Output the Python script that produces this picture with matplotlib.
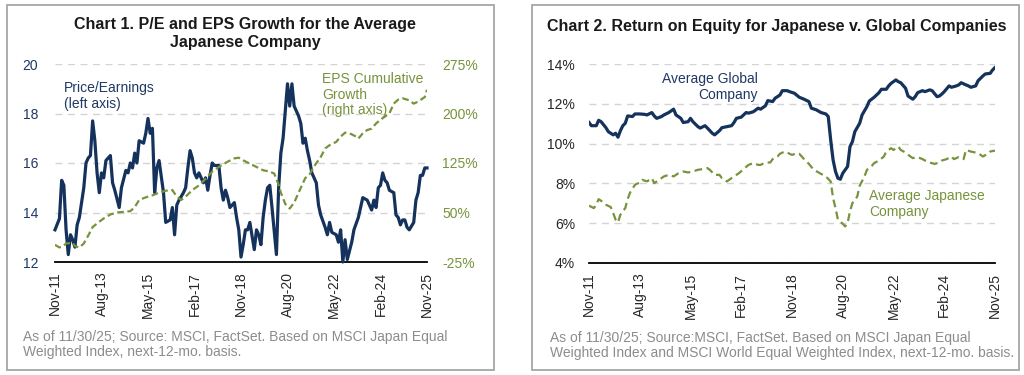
import matplotlib.pyplot as plt
import matplotlib.patches as patches

plt.rcParams['font.family'] = ['Liberation Sans', 'DejaVu Sans']

# ---- data: (months since Nov-2011, value) ----
date_labels = ['Nov-11', 'Aug-13', 'May-15', 'Feb-17', 'Nov-18',
               'Aug-20', 'May-22', 'Feb-24', 'Nov-25']

pe_points = [
    (0, 13.3), (2, 13.75), (3, 15.3), (4, 15.1), (5, 13.3), (6, 12.3), (7, 13.1),
    (8, 12.9), (9, 12.6), (10, 13.5), (11, 13.8), (13, 15.0), (14, 16.0), (15, 16.2),
    (16, 16.3), (17, 17.7), (18, 16.9), (19, 15.6), (20, 14.8), (21, 15.6), (22, 15.4),
    (23, 16.1), (25, 16.3), (26, 15.2), (27, 14.9), (29, 14.2), (30, 15.0), (32, 15.7),
    (33, 15.6), (34, 16.0), (35, 15.8), (36, 16.4), (37, 16.0), (38, 16.9), (40, 16.8),
    (41, 17.2), (42, 17.8), (43, 17.2), (44, 17.4), (45, 14.8), (46, 15.8), (47, 16.1),
    (49, 14.8), (50, 13.6), (52, 13.7), (53, 14.2), (54, 13.1), (55, 14.3), (56, 14.5),
    (58, 14.8), (59, 15.0), (60, 15.8), (61, 16.5), (62, 16.2), (63, 15.6), (64, 15.4),
    (65, 15.6), (67, 15.2), (68, 15.4), (69, 14.9), (70, 15.5), (71, 16.0), (72, 15.9),
    (74, 15.9), (75, 15.0), (76, 14.5), (77, 14.9), (78, 14.6), (79, 14.2), (81, 14.4),
    (82, 13.8), (83, 13.3), (84, 12.2), (85, 12.7), (86, 13.3), (87, 13.3), (88, 13.6),
    (90, 12.5), (91, 13.3), (92, 13.1), (93, 12.7), (94, 13.8), (95, 14.5), (96, 15.0),
    (97, 15.1), (98, 14.2), (100, 12.3), (101, 15.0), (102, 16.4), (103, 17.0), (104, 18.1),
    (105, 19.2), (106, 18.3), (107, 19.2), (108, 18.3), (110, 17.9), (111, 17.6), (112, 16.8),
    (113, 17.0), (114, 16.5), (115, 16.1), (116, 15.6), (118, 15.2), (119, 14.3), (120, 13.9),
    (122, 13.4), (123, 13.1), (124, 13.6), (125, 13.2), (127, 13.1), (128, 12.8), (129, 13.3),
    (130, 12.0), (131, 12.9), (132, 12.1), (134, 12.8), (135, 13.3), (137, 13.8), (138, 14.2),
    (139, 14.6), (141, 14.5), (143, 14.1), (144, 14.5), (145, 14.2), (146, 15.0), (147, 15.1),
    (148, 15.6), (149, 15.3), (150, 15.2), (151, 14.9), (153, 14.8), (154, 13.9), (155, 13.8),
    (156, 13.5), (157, 13.7), (158, 13.7), (159, 13.4), (160, 13.3), (162, 13.6), (163, 14.5),
    (164, 14.8), (165, 15.5), (166, 15.5), (167, 15.8), (168, 15.8),
]

eps_points = [
    (0, 1), (2, -3), (4, 0), (5, 3), (8, 4), (9, -1), (11, -3), (13, 3), (15, 15),
    (17, 28), (20, 36), (22, 41), (25, 47), (28, 50), (31, 51), (34, 52), (36, 58),
    (38, 69), (41, 73), (44, 76), (47, 80), (50, 83), (53, 84), (55, 74), (57, 69),
    (59, 74), (62, 84), (65, 91), (68, 101), (71, 112), (74, 119), (78, 127), (81, 132),
    (83, 133), (85, 129), (88, 124), (91, 119), (94, 114), (97, 112), (99, 109), (101, 92),
    (102, 80), (104, 63), (106, 56), (108, 65), (110, 80), (113, 102), (115, 108), (117, 120),
    (120, 134), (122, 147), (124, 152), (127, 157), (129, 165), (131, 171), (133, 170),
    (136, 165), (137, 162), (139, 170), (141, 175), (143, 177), (145, 185), (148, 193),
    (151, 200), (153, 215), (155, 221), (157, 223), (160, 220), (162, 215), (164, 218),
    (167, 225), (168, 236),
]

roe_global_points = [
    (0, 11.06), (1, 10.9), (3, 10.9), (4, 11.17), (5, 11.1), (7, 10.8), (8, 10.6),
    (10, 10.44), (11, 10.52), (12, 10.32), (13, 10.65), (14, 10.9), (15, 11.02), (16, 11.39),
    (18, 11.36), (19, 11.49), (21, 11.49), (23, 11.47), (24, 11.44), (26, 11.56), (27, 11.39),
    (28, 11.27), (30, 11.36), (31, 11.44), (33, 11.56), (35, 11.73), (36, 11.44), (38, 11.27),
    (39, 11.06), (41, 11.1), (42, 11.27), (43, 11.1), (45, 10.86), (46, 10.78), (48, 10.9),
    (49, 10.78), (51, 10.52), (52, 10.44), (54, 10.65), (55, 10.8), (57, 10.85), (59, 10.9),
    (60, 11.06), (61, 11.27), (63, 11.33), (65, 11.56), (66, 11.53), (68, 11.6), (70, 11.78),
    (71, 11.73), (73, 11.9), (74, 12.16), (76, 12.11), (77, 12.28), (79, 12.44), (80, 12.66),
    (82, 12.66), (83, 12.61), (85, 12.53), (87, 12.33), (89, 12.23), (91, 12.11), (92, 11.78),
    (94, 11.7), (96, 11.56), (98, 11.49), (99, 11.36), (100, 10.19), (101, 9.18), (102, 8.6),
    (103, 8.26), (104, 8.21), (105, 8.51), (107, 8.85), (108, 9.85), (109, 10.1), (110, 10.6),
    (112, 11.02), (113, 11.44), (115, 11.86), (116, 12.14), (118, 12.33), (120, 12.56),
    (121, 12.73), (123, 12.73), (124, 12.9), (125, 13.03), (127, 13.2), (128, 13.11),
    (129, 13.06), (131, 12.78), (132, 12.39), (134, 12.23), (135, 12.36), (136, 12.56),
    (138, 12.66), (139, 12.61), (141, 12.7), (142, 12.66), (144, 12.36), (145, 12.39),
    (146, 12.49), (147, 12.61), (149, 12.9), (150, 12.83), (152, 12.9), (153, 12.95),
    (154, 13.06), (156, 12.95), (157, 12.9), (158, 12.83), (160, 12.9), (161, 13.16),
    (163, 13.4), (164, 13.5), (166, 13.53), (167, 13.7), (168, 13.82),
]

roe_japan_points = [
    (0, 6.88), (2, 6.76), (3, 6.93), (4, 7.21), (6, 7.04), (7, 6.93), (9, 6.81), (10, 6.51),
    (11, 6.18), (12, 6.04), (13, 6.43), (15, 6.76), (16, 7.21), (17, 7.54), (19, 7.93),
    (21, 8.05), (22, 8.18), (24, 8.1), (26, 8.26), (27, 8.01), (29, 8.18), (31, 8.35),
    (33, 8.43), (35, 8.35), (37, 8.51), (39, 8.6), (41, 8.55), (43, 8.6), (45, 8.68),
    (47, 8.72), (49, 8.77), (50, 8.68), (52, 8.43), (54, 8.43), (55, 8.26), (57, 8.1),
    (58, 8.18), (60, 8.35), (62, 8.51), (64, 8.72), (66, 8.93), (68, 9.02), (70, 8.93),
    (71, 8.93), (73, 9.05), (75, 9.05), (76, 9.22), (78, 9.35), (79, 9.49), (81, 9.6),
    (82, 9.55), (84, 9.43), (86, 9.52), (87, 9.49), (89, 9.22), (91, 8.98), (93, 8.68),
    (95, 8.55), (96, 8.48), (98, 8.35), (100, 8.1), (101, 7.26), (102, 6.76), (103, 6.18),
    (105, 5.97), (106, 5.84), (107, 6.0), (108, 6.6), (109, 7.01), (111, 7.34), (112, 7.88),
    (114, 8.35), (115, 8.68), (117, 8.88), (118, 9.02), (120, 9.15), (122, 9.35), (123, 9.6),
    (125, 9.77), (126, 9.68), (128, 9.85), (129, 9.68), (131, 9.55), (133, 9.35), (134, 9.27),
    (136, 9.32), (138, 9.22), (139, 9.15), (141, 9.05), (143, 8.98), (145, 9.05), (146, 9.15),
    (148, 9.22), (150, 9.35), (151, 9.22), (153, 9.32), (155, 9.22), (156, 9.68), (158, 9.6),
    (160, 9.55), (161, 9.52), (163, 9.35), (165, 9.49), (166, 9.6), (168, 9.65),
]

pe_ticks = [12, 14, 16, 18, 20]
eps_ticks = [-25, 50, 125, 200, 275]
roe_ticks = [4, 6, 8, 10, 12, 14]

# ---- styling ----
navy = '#14325c'
olive = '#77933c'
grid_col = '#d4d4d4'
text_dark = '#262626'
note_gray = '#8c8c8c'

W, H = 1024, 375
fig = plt.figure(figsize=(W / 100, H / 100), dpi=100)

# light grey frames around each chart
for x0 in (7, 532):
    fig.add_artist(patches.Rectangle((x0 / W, 5 / H), 487 / W, 365 / H,
                                     transform=fig.transFigure, fill=False,
                                     edgecolor='#a6a6a6', lw=1.3))


def style_axes(ax, tick_color):
    for side in ['top', 'right', 'left']:
        ax.spines[side].set_visible(False)
    ax.spines['bottom'].set_color('black')
    ax.spines['bottom'].set_linewidth(1.3)
    ax.grid(axis='y', color=grid_col, ls=(0, (5, 4)), lw=1)
    ax.set_axisbelow(True)
    ax.set_xlim(0, 168)
    ax.set_xticks([21 * i for i in range(len(date_labels))])
    ax.set_xticklabels(date_labels, rotation=90, fontsize=10, color=text_dark)
    ax.tick_params(axis='x', length=0, pad=7)
    ax.tick_params(axis='y', length=0, labelsize=10, labelcolor=tick_color)


# ---------------- Chart 1 ----------------
ax1 = fig.add_axes([55 / W, 113 / H, 372 / W, 198 / H])
style_axes(ax1, '#1f3864')
ax1.tick_params(axis='y', pad=12)
m, v = zip(*pe_points)
ax1.plot(m, v, color=navy, lw=2.3, solid_joinstyle='round', zorder=3, clip_on=False)
ax1.set_ylim(12, 20)
ax1.set_yticks(pe_ticks)

ax1r = ax1.twinx()
for side in ax1r.spines:
    ax1r.spines[side].set_visible(False)
m, v = zip(*eps_points)
ax1r.plot(m, v, color=olive, lw=1.6, ls=(0, (3, 1.6)))
ax1r.set_ylim(-25, 275)
ax1r.set_yticks(eps_ticks)
ax1r.set_yticklabels([f'{t}%' for t in eps_ticks])
ax1r.tick_params(axis='y', length=0, labelsize=10, labelcolor=olive, pad=11)

ax1.text(4, 19.3, 'Price/Earnings\n(left axis)', color='#1f3864', fontsize=10,
         va='top', ha='left', linespacing=1.15)
ax1r.text(120.5, 263, 'EPS Cumulative\nGrowth\n(right axis)', color=olive, fontsize=10,
          va='top', ha='left', linespacing=1.15)

fig.text(245 / W, 1 - 25 / H, 'Chart 1. P/E and EPS Growth for the Average',
         ha='center', va='center', fontsize=11.5, fontweight='bold', color='#1a1a1a')
fig.text(245 / W, 1 - 43 / H, 'Japanese Company',
         ha='center', va='center', fontsize=11.5, fontweight='bold', color='#1a1a1a')
fig.text(23 / W, 1 - 337 / H, 'As of 11/30/25; Source: MSCI, FactSet. Based on MSCI Japan Equal',
         ha='left', va='center', fontsize=10, color=note_gray)
fig.text(23 / W, 1 - 352 / H, 'Weighted Index, next-12-mo. basis.',
         ha='left', va='center', fontsize=10, color=note_gray)

# ---------------- Chart 2 ----------------
ax2 = fig.add_axes([589 / W, 112 / H, 406 / W, 199 / H])
style_axes(ax2, text_dark)
ax2.tick_params(axis='y', pad=10)
m, v = zip(*roe_global_points)
ax2.plot(m, v, color=navy, lw=2.3, solid_joinstyle='round', zorder=3)
m, v = zip(*roe_japan_points)
ax2.plot(m, v, color=olive, lw=1.6, ls=(0, (3.5, 2)), zorder=3)
ax2.set_ylim(4, 14)
ax2.set_yticks(roe_ticks)
ax2.set_yticklabels([f'{t}%' for t in roe_ticks])

ax2.text(70, 13.6, 'Average Global\nCompany', color='#1f3864', fontsize=10,
         va='top', ha='right', multialignment='right', linespacing=1.15)
ax2.text(116, 7.7, 'Average Japanese\nCompany', color=olive, fontsize=10,
         va='top', ha='left', linespacing=1.15)

fig.text(777 / W, 1 - 26 / H, 'Chart 2. Return on Equity for Japanese v. Global Companies',
         ha='center', va='center', fontsize=11.5, fontweight='bold', color='#1a1a1a')
fig.text(550 / W, 1 - 338 / H, 'As of 11/30/25; Source:MSCI, FactSet. Based on MSCI Japan Equal',
         ha='left', va='center', fontsize=10, color=note_gray)
fig.text(550 / W, 1 - 353 / H,
         'Weighted Index and MSCI World Equal Weighted Index, next-12-mo. basis.',
         ha='left', va='center', fontsize=10, color=note_gray)

fig.savefig('out.png', dpi=100)
